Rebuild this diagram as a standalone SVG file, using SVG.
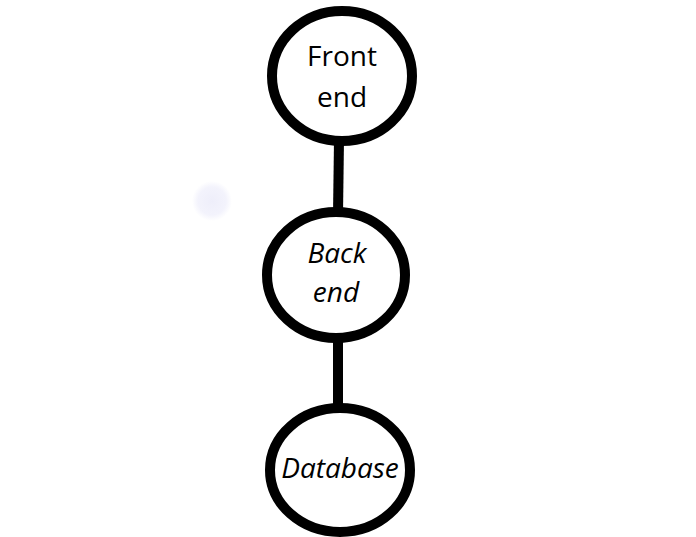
<svg xmlns="http://www.w3.org/2000/svg" width="696" height="537" viewBox="0 0 696 537">
<style>
.n{fill:#fff;stroke:#000;stroke-width:10}
.c{stroke:#000;stroke-width:10;fill:none}
.t{font-family:"Open Sans","Noto Sans",sans-serif;font-size:28px;fill:#000;text-anchor:middle}
.i{font-style:italic}
</style>
<defs>
<radialGradient id="blob">
<stop offset="0" stop-color="#eeeefa"/>
<stop offset="0.7" stop-color="#f3f3fc"/>
<stop offset="1" stop-color="#fff"/>
</radialGradient>
</defs>
<rect width="696" height="537" fill="#fff"/>
<circle cx="212" cy="201" r="20" fill="url(#blob)"/>
<g id="connectors">
<line class="c" x1="339" y1="140" x2="338" y2="214"/>
<line class="c" x1="338" y1="336" x2="338" y2="412"/>
</g>
<g id="frontend">
<ellipse class="n" cx="342" cy="76" rx="70" ry="65"/>
<text class="t" x="342" y="66">Front</text>
<text class="t" x="342" y="107">end</text>
</g>
<g id="backend">
<ellipse class="n" cx="336" cy="275" rx="69" ry="63"/>
<text class="t i" x="337" y="263">Back</text>
<text class="t i" x="336" y="302">end</text>
</g>
<g id="database">
<ellipse class="n" cx="340" cy="470" rx="70" ry="62"/>
<text class="t i" x="340" y="478">Database</text>
</g>
</svg>
